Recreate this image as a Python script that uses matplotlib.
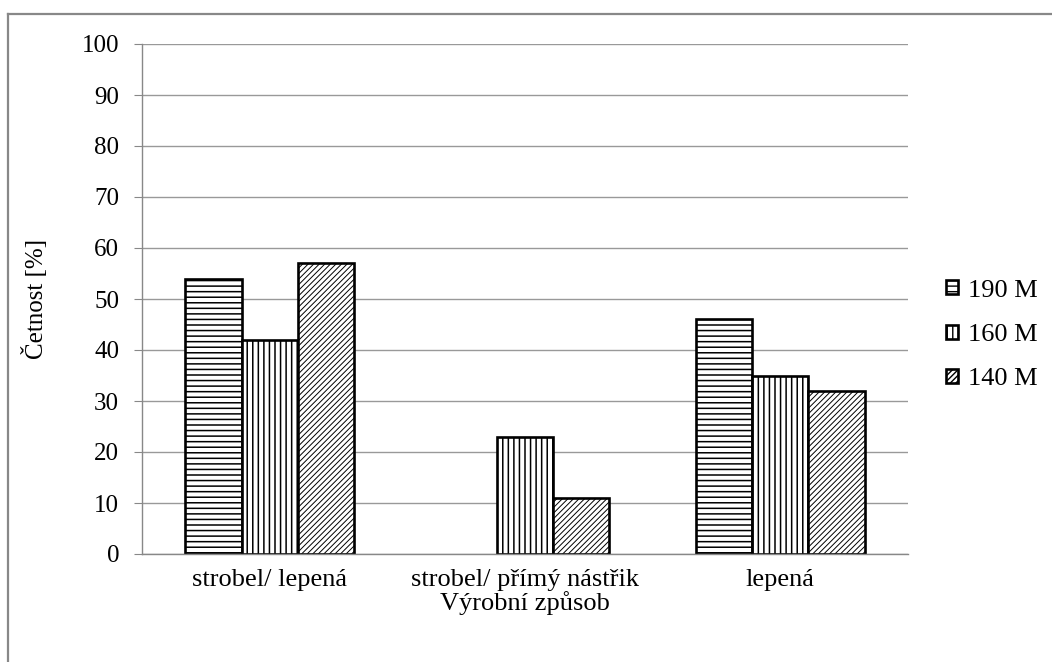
import matplotlib.pyplot as plt
import numpy as np
from matplotlib.lines import Line2D

plt.rcParams['font.family'] = ['Liberation Serif', 'DejaVu Serif']
plt.rcParams['hatch.linewidth'] = 1.0

categories = ['strobel/ lepená', 'strobel/ přímý nástřik', 'lepená']
series_names = ['190 M', '160 M', '140 M']
values_190 = [54, 0, 46]
values_160 = [42, 23, 35]
values_140 = [57, 11, 32]
y_ticks = list(range(0, 101, 10))

series = [values_190, values_160, values_140]
hatches = ['---', '|||', '//////']
hatch_widths = [1.1, 1.1, 0.7]

W, H = 1052, 662
fig = plt.figure(figsize=(W / 100, H / 100), dpi=100)
ax = fig.add_axes([142 / W, 1 - 554 / H, (908 - 142) / W, (554 - 44) / H])

x = np.arange(len(categories))
width = 0.22
for i, (vals, name, h, hw) in enumerate(zip(series, series_names, hatches, hatch_widths)):
    bars = ax.bar(x + (i - 1) * width, vals, width, label=name,
                  facecolor='white', edgecolor='black', hatch=h, linewidth=1.9)
    for b, v in zip(bars, vals):
        try:
            b.set_hatch_linewidth(hw)
        except AttributeError:
            pass
        if v == 0:
            b.set_visible(False)

ax.set_xlim(-0.5, len(categories) - 0.5)
ax.set_ylim(0, 100)
ax.set_yticks(y_ticks)
ax.set_xticks(x)
ax.set_xticklabels(categories)
ax.tick_params(axis='x', length=0, labelsize=19, pad=11)
ax.tick_params(axis='y', length=5.5, color='#888888', labelsize=18, pad=11, direction='out')
ax.grid(axis='y', color='#999999', linewidth=1.0)
ax.set_axisbelow(True)
for s in ['top', 'right']:
    ax.spines[s].set_visible(False)
for s in ['left', 'bottom']:
    ax.spines[s].set_color('#888888')
    ax.spines[s].set_linewidth(1.0)

ax.set_ylabel('Četnost [%]', fontsize=18)
ax.yaxis.set_label_coords((48 - 142) / 766, 0.5)
ax.set_xlabel('Výrobní způsob', fontsize=19, labelpad=0)

handles, labels = ax.get_legend_handles_labels()
leg = fig.legend(handles, labels, loc='center left', bbox_to_anchor=(946 / W, 1 - 335 / H),
                 frameon=False, fontsize=19, handlelength=0.45, handleheight=0.45,
                 handletextpad=0.4, labelspacing=0.85, borderpad=0, borderaxespad=0)

# outer border: only the left and top edges fall inside the canvas
fig.add_artist(Line2D([8 / W, 8 / W], [0, 1 - 14 / H], transform=fig.transFigure,
                      color='#888888', linewidth=1.6))
fig.add_artist(Line2D([8 / W, 1], [1 - 14 / H, 1 - 14 / H], transform=fig.transFigure,
                      color='#888888', linewidth=1.6))

fig.savefig('out.png', dpi=100)
